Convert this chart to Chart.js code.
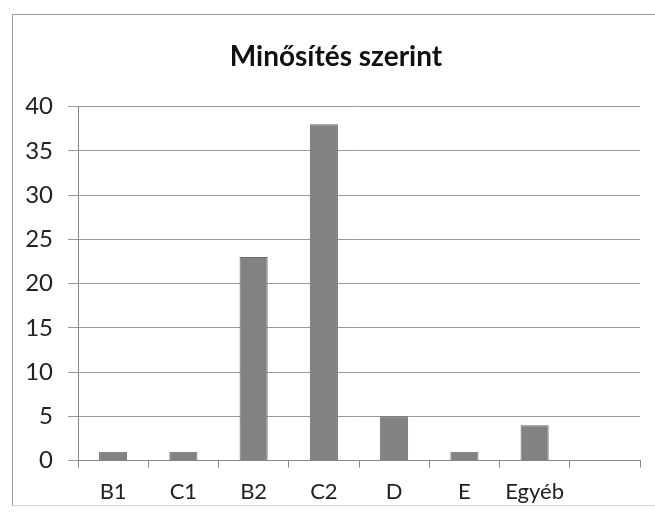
<!DOCTYPE html>
<html><head><meta charset="utf-8">
<script src="https://cdn.jsdelivr.net/npm/chart.js@4"></script>
<style>
html,body{margin:0;padding:0;background:#fff;}
#wrap{position:relative;width:655px;height:521px;overflow:hidden;}
#frame{position:absolute;left:12px;top:14px;width:660px;height:490px;border-left:1px solid #9a9a9a;border-top:1px solid #9a9a9a;border-bottom:1px solid #d0d0d0;}
canvas{position:absolute;left:0;top:0;}
</style></head>
<body>
<div id="wrap"><div id="frame"></div><canvas id="c" width="655" height="521"></canvas></div>
<script>
const categories = ["B1", "C1", "B2", "C2", "D", "E", "Egyéb", ""];
const values = [1, 1, 23, 38, 5, 1, 4, null];
const yTicks = [0, 5, 10, 15, 20, 25, 30, 35, 40];
const titleText = "Minősítés szerint";

Chart.defaults.font.family = "Lato, 'Open Sans', sans-serif";
Chart.defaults.color = "#222";

const shiftTitle = {
  id: 'shiftTitle',
  afterLayout(chart) {
    const t = chart.titleBlock;
    if (t) { t.left += 20; }
  }
};

new Chart(document.getElementById('c'), {
  type: 'bar',
  data: {
    labels: categories,
    datasets: [{
      data: values,
      backgroundColor: '#828282',
      borderColor: '#6a6a6a',
      borderWidth: 1,
      categoryPercentage: 1,
      barPercentage: 0.4
    }]
  },
  plugins: [shiftTitle],
  options: {
    responsive: false,
    animation: false,
    layout: { padding: { left: 12, right: 15, top: 40, bottom: 5 } },
    plugins: {
      legend: { display: false },
      tooltip: { enabled: false },
      title: {
        display: true,
        text: titleText,
        color: '#111',
        font: { size: 28, weight: 'bold' },
        padding: { top: 0, bottom: 33 }
      }
    },
    scales: {
      x: {
        offset: true,
        grid: { display: true, drawOnChartArea: false, drawTicks: true, tickLength: 7, color: '#888', offset: true },
        border: { display: true, color: '#888' },
        ticks: { font: { size: 22 }, color: '#222', padding: 11 }
      },
      y: {
        min: 0, max: 40,
        afterFit: s => { s.width = 66; },
        afterBuildTicks: s => { s.ticks = yTicks.map(v => ({ value: v })); },
        grid: { color: '#999', tickLength: 10, drawTicks: true },
        border: { display: true, color: '#888' },
        ticks: { font: { size: 24 }, color: '#222', padding: 15 }
      }
    }
  }
});
</script>
</body></html>
